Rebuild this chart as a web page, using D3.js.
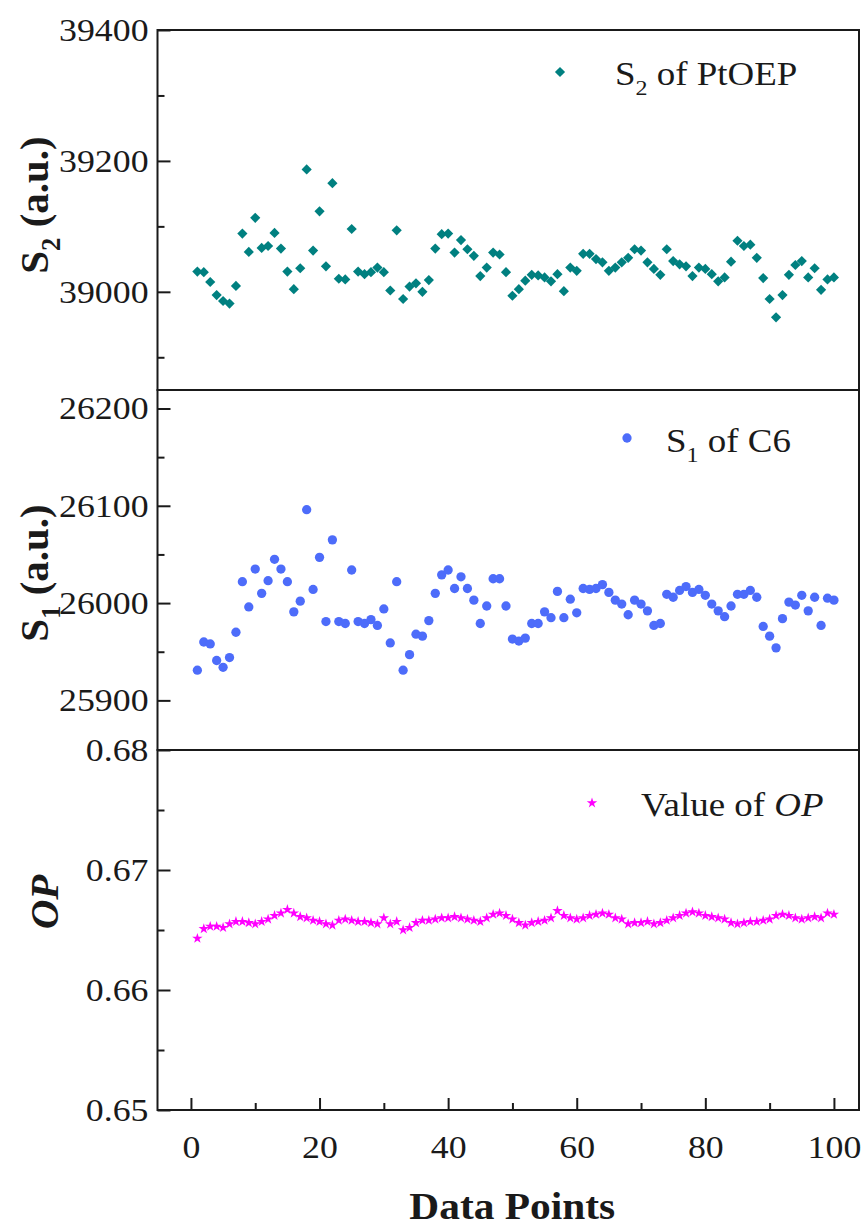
<!DOCTYPE html>
<html>
<head>
<meta charset="utf-8">
<script src="https://cdn.jsdelivr.net/npm/d3@7"></script>
<style>
body { margin: 0; background: #fff; }
text { font-family: "Liberation Serif", "Times New Roman", serif; fill: #1a1a1a; }
</style>
</head>
<body>
<div class="chart-container"></div>
<script>
// datos (100 puntos)
var puntos = d3.range(1, 101);

var s2PtOEP = [
  39031, 39030, 39015, 38995, 38986, 38982, 39009, 39089, 39061, 39113,
  39067, 39070, 39090, 39066, 39031, 39004, 39036, 39187, 39063, 39123,
  39039, 39166, 39020, 39019, 39096, 39031, 39027, 39030, 39037, 39030,
  39002, 39094, 38989, 39008, 39013, 39000, 39018, 39066, 39088, 39089,
  39060, 39079, 39065, 39055, 39024, 39037, 39060, 39057, 39030, 38994,
  39004, 39017, 39026, 39025, 39022, 39016, 39027, 39001, 39037, 39032,
  39058, 39058, 39050, 39045, 39032, 39037, 39045, 39052, 39065, 39063,
  39045, 39035, 39026, 39065, 39047, 39042, 39039, 39024, 39037, 39035,
  39027, 39016, 39022, 39046, 39078, 39070, 39072, 39052, 39021, 38989,
  38961, 38995, 39026, 39041, 39047, 39022, 39036, 39003, 39019, 39022
];

var s1C6 = [
  25931, 25960, 25958, 25941, 25934, 25944, 25970, 26022, 25996, 26035,
  26010, 26023, 26045, 26035, 26022, 25991, 26002, 26096, 26014, 26047,
  25981, 26065, 25981, 25979, 26034, 25981, 25979, 25983, 25977, 25994,
  25959, 26022, 25931, 25947, 25968, 25966, 25982, 26010, 26029, 26034,
  26015, 26027, 26015, 26003, 25979, 25997, 26025, 26025, 25997, 25963,
  25961, 25964, 25979, 25979, 25991, 25985, 26012, 25985, 26004, 25990,
  26015, 26014, 26015, 26019, 26011, 26003, 25999, 25988, 26003, 25999,
  25992, 25977, 25979, 26009, 26006, 26013, 26017, 26011, 26014, 26008,
  25999, 25992, 25986, 25997, 26009, 26009, 26013, 26006, 25976, 25966,
  25954, 25984, 26001, 25998, 26008, 25992, 26006, 25977, 26005, 26003
];

var valorOP = [
  0.6643, 0.6651, 0.6653, 0.6653, 0.6652, 0.6655, 0.6657, 0.6657, 0.6656, 0.6655,
  0.6657, 0.6659, 0.6662, 0.6664, 0.6667, 0.6664, 0.6661, 0.6660, 0.6658, 0.6657,
  0.6655, 0.6654, 0.6658, 0.6659, 0.6658, 0.6657, 0.6657, 0.6656, 0.6655, 0.6660,
  0.6655, 0.6657, 0.6650, 0.6652, 0.6656, 0.6658, 0.6658, 0.6659, 0.6660, 0.6660,
  0.6661, 0.6660, 0.6659, 0.6658, 0.6657, 0.6660, 0.6663, 0.6664, 0.6662, 0.6659,
  0.6656, 0.6654, 0.6656, 0.6657, 0.6658, 0.6660, 0.6666, 0.6662, 0.6660, 0.6659,
  0.6660, 0.6662, 0.6663, 0.6664, 0.6663, 0.6660, 0.6659, 0.6655, 0.6656, 0.6656,
  0.6657, 0.6655, 0.6656, 0.6658, 0.6660, 0.6662, 0.6664, 0.6665, 0.6664, 0.6662,
  0.6661, 0.6660, 0.6659, 0.6656, 0.6655, 0.6656, 0.6657, 0.6657, 0.6658, 0.6659,
  0.6662, 0.6663, 0.6662, 0.6660, 0.6659, 0.6660, 0.6661, 0.6660, 0.6664, 0.6663
];

var xTicks = [0, 20, 40, 60, 80, 100];
var xMinor = [10, 30, 50, 70, 90];
var s2Ticks = [39000, 39200, 39400];
var s2Minor = [38900, 39100, 39300];
var s1Ticks = [25900, 26000, 26100, 26200];
var s1Minor = [25950, 26050, 26150];
var opTicks = [0.65, 0.66, 0.67, 0.68];
var opMinor = [0.655, 0.665, 0.675];

var SX = 1.12; // la figura original esta algo estirada en horizontal
var left = 157.5, right = 859;

var svg = d3.select('.chart-container')
    .append('svg')
    .attr("width", 866)
    .attr("height", 1227);

var x = d3.scaleLinear()
    .domain([-5.2, 103.9])
    .range([left, right]);

var panels = [
  { datos: s2PtOEP, dominio: [38850, 39400], top: 30, bottom: 390,
    ticks: s2Ticks, minor: s2Minor, fmt: d3.format("d"),
    simbolo: d3.symbolSquare, size: 52, rot: 45, color: "#008080",
    leyenda: { mx: 560, my: 72, tx: 615, ty: 85, partes: [["S", 0], ["2", 1], [" of PtOEP", 0]] },
    titulo: { x: 48, y: 205, partes: [["S", 0], ["2", 1], [" (a.u.)", 0]] } },
  { datos: s1C6, dominio: [25849, 26219], top: 390, bottom: 750,
    ticks: s1Ticks, minor: s1Minor, fmt: d3.format("d"),
    simbolo: d3.symbolCircle, size: 68, rot: 0, color: "#4d6cfa",
    leyenda: { mx: 627, my: 438, tx: 666, ty: 452, partes: [["S", 0], ["1", 1], [" of C6", 0]] },
    titulo: { x: 48, y: 573, partes: [["S", 0], ["1", 1], [" (a.u.)", 0]] } },
  { datos: valorOP, dominio: [0.65, 0.68], top: 750, bottom: 1110,
    ticks: opTicks, minor: opMinor, fmt: d3.format(".2f"),
    simbolo: d3.symbolStar, size: 34, rot: 0, color: "#ff00ff",
    leyenda: { mx: 592, my: 803, tx: 641, ty: 816, partes: [["Value of ", 0], ["OP", 2]] },
    titulo: { x: 58, y: 902, partes: [["OP", 2]] } }
];

panels.forEach(function(p) {
    var y = d3.scaleLinear()
        .domain(p.dominio)
        .range([p.bottom, p.top]);

    var yAxis = d3.axisLeft(y)
        .tickValues(p.ticks)
        .tickFormat(p.fmt)
        .tickSize(-13)
        .tickPadding(8);

    var yMinor = d3.axisLeft(y)
        .tickValues(p.minor)
        .tickFormat("")
        .tickSize(-7);

    var gy = svg.append("g")
        .attr("transform", "translate(" + left + ",0)")
        .call(yAxis);
    gy.select(".domain").remove();
    gy.selectAll("line").attr("stroke", "#1a1a1a").attr("stroke-width", 2);
    gy.selectAll("text")
        .attr("font-size", 32)
        .attr("font-family", "Liberation Serif")
        .attr("fill", "#1a1a1a")
        .attr("transform", "scale(" + SX + ",1)");

    var gm = svg.append("g")
        .attr("transform", "translate(" + left + ",0)")
        .call(yMinor);
    gm.select(".domain").remove();
    gm.selectAll("line").attr("stroke", "#1a1a1a").attr("stroke-width", 2);

    // puntos
    var sym = d3.symbol().type(p.simbolo).size(p.size);
    svg.append("g")
        .selectAll("path")
        .data(p.datos)
        .enter()
        .append("path")
        .attr("d", sym)
        .attr("fill", p.color)
        .attr("transform", function(d, i) {
            return "translate(" + x(puntos[i]) + "," + y(d) + ") rotate(" + p.rot + ")";
        });

    // marco
    svg.append("rect")
        .attr("x", left)
        .attr("y", p.top)
        .attr("width", right - left)
        .attr("height", p.bottom - p.top)
        .attr("fill", "none")
        .attr("stroke", "#1a1a1a")
        .attr("stroke-width", 2);

    // leyenda
    svg.append("path")
        .attr("d", sym)
        .attr("fill", p.color)
        .attr("transform", "translate(" + p.leyenda.mx + "," + p.leyenda.my + ") rotate(" + p.rot + ")");

    var lt = svg.append("text")
        .attr("transform", "translate(" + p.leyenda.tx + "," + p.leyenda.ty + ") scale(" + SX + ",1)")
        .attr("font-size", 33);
    escribir(lt, p.leyenda.partes, 33);

    // titulo eje y
    var tt = svg.append("text")
        .attr("transform", "translate(" + p.titulo.x + "," + p.titulo.y + ") rotate(-90)")
        .attr("text-anchor", "middle")
        .attr("font-size", 41)
        .attr("font-weight", "bold");
    escribir(tt, p.titulo.partes, 41);
});

function escribir(t, partes, fs) {
    var bajado = 0;
    partes.forEach(function(pt) {
        var s = t.append("tspan").text(pt[0]);
        if (pt[1] === 1) {
            s.attr("font-size", fs * 0.65).attr("dy", fs * 0.3);
            bajado = fs * 0.3;
        } else {
            if (bajado) { s.attr("dy", -bajado); bajado = 0; }
            if (pt[1] === 2) s.attr("font-style", "italic");
        }
    });
}

// eje x (solo panel inferior)
var xAxis = d3.axisBottom(x)
    .tickValues(xTicks)
    .tickFormat(d3.format("d"))
    .tickSize(-12)
    .tickPadding(25);

var xMinorAxis = d3.axisBottom(x)
    .tickValues(xMinor)
    .tickFormat("")
    .tickSize(-7);

var gx = svg.append("g")
    .attr("transform", "translate(0,1110)")
    .call(xAxis);
gx.select(".domain").remove();
gx.selectAll("line").attr("stroke", "#1a1a1a").attr("stroke-width", 2);
gx.selectAll("text")
    .attr("font-size", 32)
    .attr("font-family", "Liberation Serif")
    .attr("fill", "#1a1a1a")
    .attr("transform", "scale(" + SX + ",1)");

var gxm = svg.append("g")
    .attr("transform", "translate(0,1110)")
    .call(xMinorAxis);
gxm.select(".domain").remove();
gxm.selectAll("line").attr("stroke", "#1a1a1a").attr("stroke-width", 2);

svg.append("text")
    .attr("transform", "translate(" + ((left + right) / 2 + 4) + ",1219) scale(" + SX + ",1)")
    .attr("text-anchor", "middle")
    .attr("font-size", 37)
    .attr("font-weight", "bold")
    .text("Data Points");
</script>
</body>
</html>
